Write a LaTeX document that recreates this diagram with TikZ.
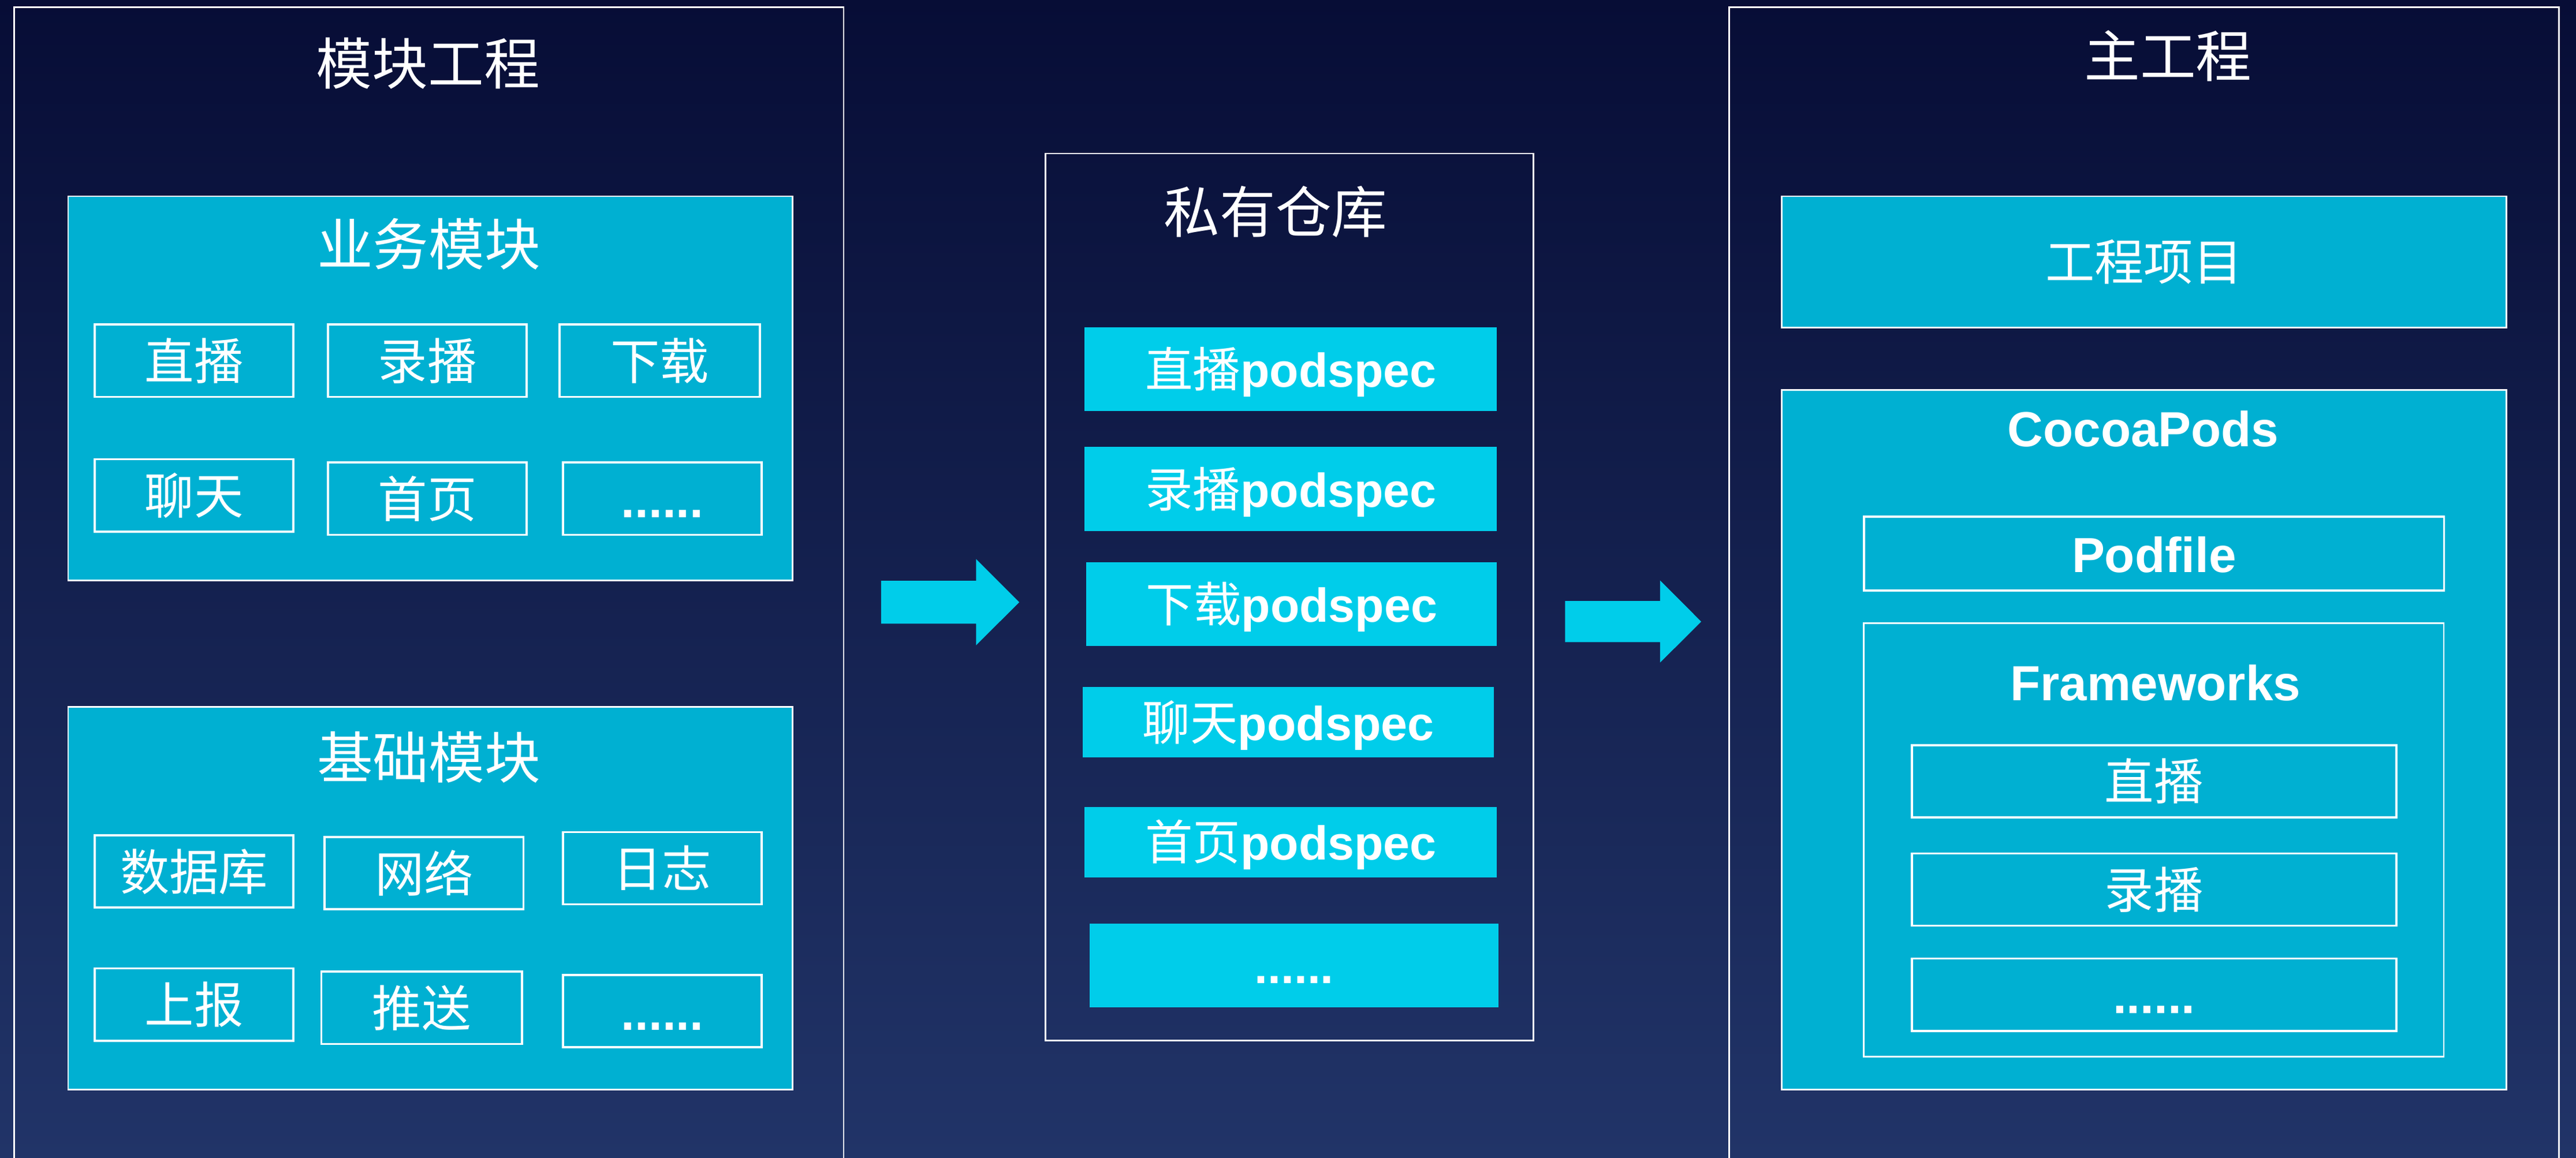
\documentclass[tikz,border=0pt]{standalone}
\usepackage{fontspec}
\newfontfamily\cjk{Noto Sans CJK SC}
\newfontfamily\lat{Liberation Sans}
\newcommand\fs[1]{\fontsize{#1}{#1}\selectfont}
\definecolor{bgtop}{RGB}{7,13,54}
\definecolor{bgbot}{RGB}{33,52,104}
\definecolor{boxfill}{RGB}{0,176,210}
\definecolor{podfill}{RGB}{0,205,234}
\newcommand\mkbox[7]{\node[#2, minimum width={(#5-(#3))*1pt}, minimum height={(#6-(#4))*1pt}] (#1) at (#3,#4) {#7};}
\tikzset{
  outerbox/.style={draw=white, line width=1pt, inner sep=0pt, anchor=north west},
  grpbox/.style={draw=white, line width=1pt, fill=boxfill, inner sep=0pt, anchor=north west, text=white},
  itembox/.style={draw=white, line width=1.3pt, inner sep=0pt, anchor=north west, text=white,
    font=\cjk\fs{30}, text height=26.4pt, text depth=3.6pt},
  latitem/.style={itembox, font=\lat\bfseries\fs{30}},
  podbox/.style={fill=podfill, inner sep=0pt, anchor=north west, text=white,
    font=\fs{29}, text height=25.5pt, text depth=3.5pt},
  ttl/.style={text=white, inner sep=0pt, font=\cjk\fs{34}, text height=29.9pt, text depth=4.1pt},
  latttl/.style={text=white, inner sep=0pt, anchor=base, font=\lat\bfseries\fs{30}},
  bigarrow/.style={fill=podfill}
}
\begin{document}
\begin{tikzpicture}[x=1pt,y=-1pt]
\useasboundingbox (0,0) rectangle (1568,705);
\clip (0,0) rectangle (1568,705);
\shade[top color=bgtop, bottom color=bgbot] (0,0) rectangle (1568,705);

% ---------- left: module project ----------
\mkbox{left}{outerbox}{8}{4}{513}{712}{}
\node[ttl] (lefttitle) at (260.6,38.6) {模块工程};

\mkbox{yw}{grpbox}{41}{119}{482}{353}{}
\node[ttl] (ywtitle) at (261,148.5) {业务模块};
\mkbox{zb}{itembox}{57}{197}{178}{241}{直播}
\mkbox{lb}{itembox}{199}{197}{320}{241}{录播}
\mkbox{xz}{itembox}{340}{197}{462}{241}{下载}
\mkbox{lt}{itembox}{57}{279}{178}{323}{聊天}
\mkbox{sy}{itembox}{199}{281}{320}{325}{首页}
\mkbox{da}{latitem}{342}{281}{463}{325}{......}

\mkbox{jc}{grpbox}{41}{430}{482}{663}{}
\node[ttl] (jctitle) at (261,461) {基础模块};
\mkbox{sjk}{itembox}{57}{508}{178}{552}{数据库}
\mkbox{wl}{itembox}{197}{509}{318}{553}{网络}
\mkbox{rz}{itembox}{342}{506}{463}{550}{日志}
\mkbox{sb}{itembox}{57}{589}{178}{633}{上报}
\mkbox{ts}{itembox}{195}{591}{317}{635}{推送}
\mkbox{db}{latitem}{342}{593}{463}{637}{......}

% ---------- arrows ----------
\fill[bigarrow] (536.3,353.6) -- (594.1,353.6) -- (594.1,340.4) -- (620.4,366.7)
  -- (594.1,392.9) -- (594.1,379.7) -- (536.3,379.7) -- cycle;
\fill[bigarrow] (952.7,365.9) -- (1010.5,365.9) -- (1010.5,353.4) -- (1035.5,378.5)
  -- (1010.5,403.4) -- (1010.5,391) -- (952.7,391) -- cycle;

% ---------- middle: private repo ----------
\mkbox{repo}{outerbox}{636}{93}{933}{633}{}
\node[ttl] (repotitle) at (776.5,129) {私有仓库};
\mkbox{p1}{podbox}{660}{199}{911}{250}{{\cjk 直播}{\lat\bfseries podspec}}
\mkbox{p2}{podbox}{660}{272}{911}{323}{{\cjk 录播}{\lat\bfseries podspec}}
\mkbox{p3}{podbox}{661}{342}{911}{393}{{\cjk 下载}{\lat\bfseries podspec}}
\mkbox{p4}{podbox}{659}{418}{909}{461}{{\cjk 聊天}{\lat\bfseries podspec}}
\mkbox{p5}{podbox}{660}{491}{911}{534}{{\cjk 首页}{\lat\bfseries podspec}}
\mkbox{p6}{podbox}{663}{562}{912}{613}{{\lat\bfseries ......}}

% ---------- right: main project ----------
\mkbox{right}{outerbox}{1052}{4}{1557}{712}{}
\node[ttl] (righttitle) at (1319.7,34) {主工程};
\mkbox{gcxm}{grpbox}{1084}{119}{1525}{199}{\cjk\fs{30}工程项目}
\mkbox{cocoa}{grpbox}{1084}{237}{1525}{663}{}
\node[latttl] (cocoatitle) at (1304.6,272) {CocoaPods};
\mkbox{podfile}{latitem}{1134}{314}{1487}{359}{Podfile}
\mkbox{fw}{outerbox}{1134}{379}{1487}{643}{}
\node[latttl] (fwtitle) at (1312,426.6) {Frameworks};
\mkbox{f1}{itembox}{1163}{453}{1458}{497}{直播}
\mkbox{f2}{itembox}{1163}{519}{1458}{563}{录播}
\mkbox{f3}{latitem}{1163}{583}{1458}{627}{......}
\end{tikzpicture}
\end{document}
